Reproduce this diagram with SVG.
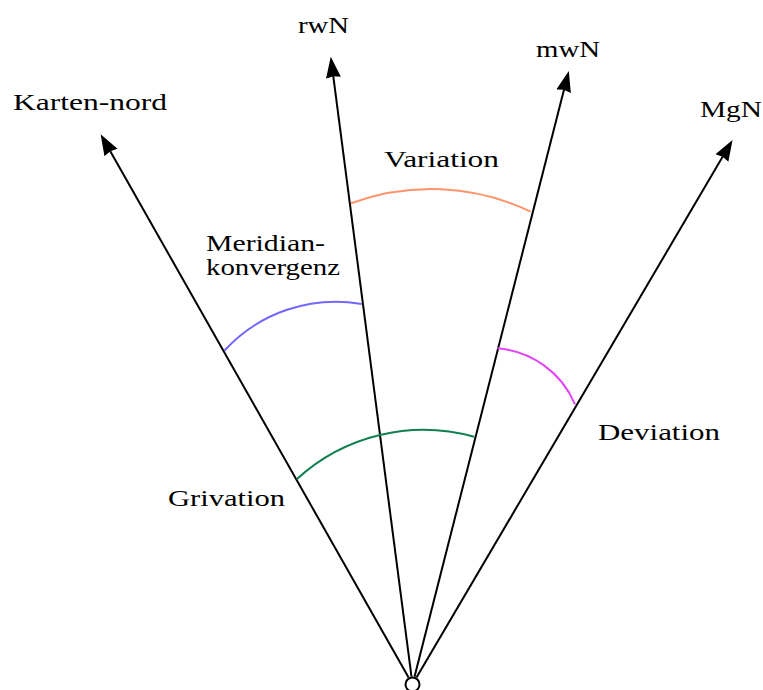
<svg xmlns="http://www.w3.org/2000/svg" width="763" height="690" viewBox="0 0 763 690">
<style>
.lbl{font-family:"Liberation Serif","Times New Roman",serif;font-size:24px;fill:#000}
.ax{stroke:#000;stroke-width:2;fill:none}
.arc{stroke-width:2;fill:none}
</style>
<defs>
<marker id="ah" markerUnits="userSpaceOnUse" markerWidth="22" markerHeight="18" viewBox="0 0 22 18" refX="2" refY="9" orient="auto">
<path d="M0,1.5 L21,9 L0,16.5 L1.5,9 Z" fill="#000"/>
</marker>
</defs>
<rect width="763" height="690" fill="#fff"/>
<g id="connectors">
<path class="ax" d="M408.6,677.5 L110.0,150.7" marker-end="url(#ah)"/>
<path class="ax" d="M411.5,676.6 L333.2,75.7" marker-end="url(#ah)"/>
<path class="ax" d="M414.5,676.7 L564.1,89.3" marker-end="url(#ah)"/>
<path class="ax" d="M416.5,677.6 L722.9,156.3" marker-end="url(#ah)"/>
</g>
<g id="origin"><circle cx="412.5" cy="684.5" r="7" fill="#fff" stroke="#000" stroke-width="2"/></g>
<g id="karten-nord"><text class="lbl" x="13" y="110" textLength="154" lengthAdjust="spacingAndGlyphs">Karten-nord</text></g>
<g id="rwN"><text class="lbl" x="298" y="33" textLength="51" lengthAdjust="spacingAndGlyphs">rwN</text></g>
<g id="mwN"><text class="lbl" x="536" y="57" textLength="64" lengthAdjust="spacingAndGlyphs">mwN</text></g>
<g id="MgN"><text class="lbl" x="700" y="117" textLength="62" lengthAdjust="spacingAndGlyphs">MgN</text></g>
<g id="variation">
<path class="arc" stroke="#ff936b" d="M351,203.3 A230.5,230.5 0 0 1 530.7,211.7"/>
<text class="lbl" x="384" y="167" textLength="115" lengthAdjust="spacingAndGlyphs">Variation</text>
</g>
<g id="meridiankonvergenz">
<path class="arc" stroke="#7068ff" d="M224.3,350.7 A151,151 0 0 1 361.7,304"/>
<text class="lbl" x="206" y="251" textLength="119" lengthAdjust="spacingAndGlyphs">Meridian-</text>
<text class="lbl" x="206" y="275" textLength="134" lengthAdjust="spacingAndGlyphs">konvergenz</text>
</g>
<g id="deviation">
<path class="arc" stroke="#e244f7" d="M497.3,348.3 A92,92 0 0 1 575,404.3"/>
<text class="lbl" x="598" y="440" textLength="122" lengthAdjust="spacingAndGlyphs">Deviation</text>
</g>
<g id="grivation">
<path class="arc" stroke="#108050" d="M296.7,479.3 A188,188 0 0 1 474,436.7"/>
<text class="lbl" x="168" y="506" textLength="117" lengthAdjust="spacingAndGlyphs">Grivation</text>
</g>
</svg>
